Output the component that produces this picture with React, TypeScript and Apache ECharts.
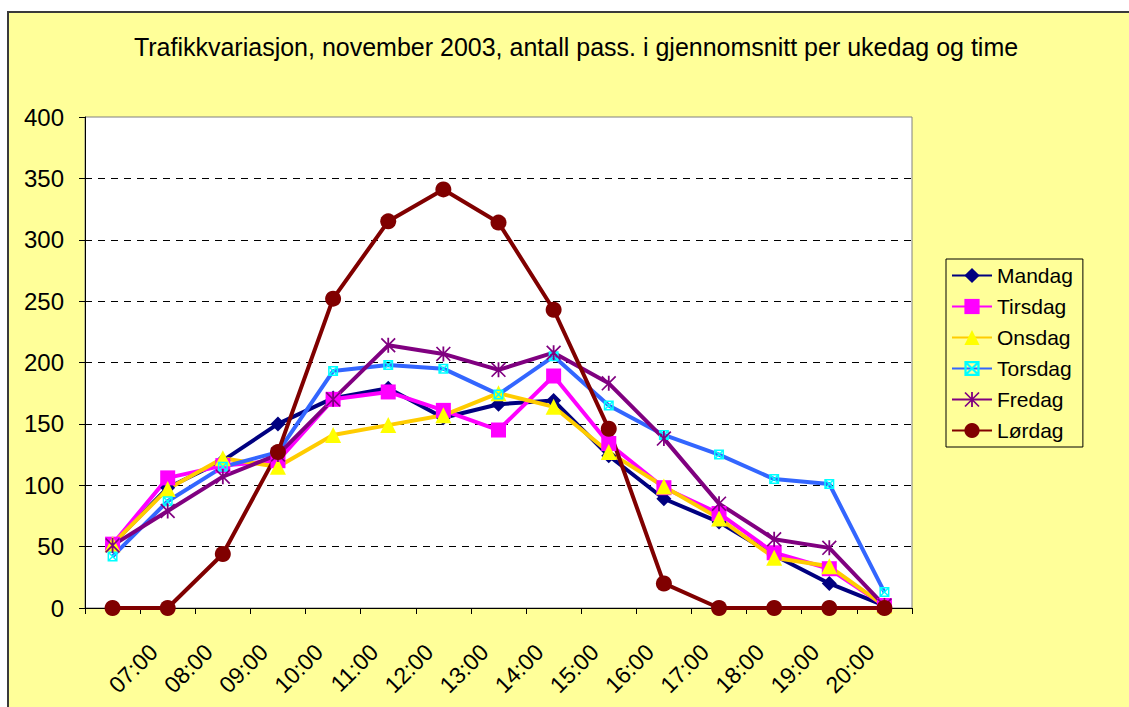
import React, { useEffect, useRef } from 'react';
import * as echarts from 'echarts';

const categories = ['', '07:00', '08:00', '09:00', '10:00', '11:00', '12:00', '13:00', '14:00', '15:00', '16:00', '17:00', '18:00', '19:00', '20:00'];
const seriesNames = ['Mandag', 'Tirsdag', 'Onsdag', 'Torsdag', 'Fredag', 'Lørdag'];
const mandag = [52, 98, 120, 150, 171, 179, 155, 166, 169, 124, 89, 70, 43, 20, 2];
const tirsdag = [52, 106, 116, 120, 170, 176, 161, 145, 189, 134, 98, 77, 45, 32, 2];
const onsdag = [52, 97, 122, 115, 141, 149, 157, 175, 164, 127, 99, 73, 41, 34, 2];
const torsdag = [42, 87, 115, 127, 193, 198, 195, 174, 205, 165, 141, 125, 105, 101, 13];
const fredag = [51, 79, 107, 125, 170, 214, 207, 194, 208, 183, 138, 85, 56, 49, 2];
const lordag = [0, 0, 44, 127, 252, 315, 341, 314, 243, 146, 20, 0, 0, 0, 0];
const yTicks = { min: 0, max: 400, interval: 50 };
const title = 'Trafikkvariasjon, november 2003, antall pass. i gjennomsnitt per ukedag og time';

const FONT = '"Liberation Sans", Arial, sans-serif';

const xBoxSymbol =
  'path://M0,0L10,0L10,10L0,10Z M1.5,1.5L1.5,8.5L8.5,8.5L8.5,1.5Z M0,1L1,0L10,9L9,10Z M9,0L10,1L1,10L0,9Z';
const starSymbol =
  'path://M4.4,0L5.6,0L5.6,10L4.4,10Z M0,0.8L0.8,0L10,9.2L9.2,10Z M9.2,0L10,0.8L0.8,10L0,9.2Z';

export default function App() {
  const ref = useRef<HTMLDivElement>(null);
  useEffect(() => {
    document.body.style.overflow = 'hidden';
    const chart = echarts.init(ref.current!, null, { renderer: 'svg' });
    const datas = [mandag, tirsdag, onsdag, torsdag, fredag, lordag];
    const styles = [
      { line: '#000080', fill: '#000080', symbol: 'diamond', size: 15 },
      { line: '#FF00FF', fill: '#FF00FF', symbol: 'rect', size: 15 },
      { line: '#FFCC00', fill: '#FFFF00', symbol: 'triangle', size: 16 },
      { line: '#3366FF', fill: '#00FFFF', symbol: xBoxSymbol, size: 10 },
      { line: '#800080', fill: '#800080', symbol: starSymbol, size: 15 },
      { line: '#800000', fill: '#800000', symbol: 'circle', size: 16 },
    ];
    chart.setOption({
      animation: false,
      backgroundColor: '#FFFF99',
      textStyle: { fontFamily: FONT },
      title: {
        text: title,
        left: 567,
        top: 21,
        textAlign: 'center',
        padding: 0,
        textStyle: { fontFamily: FONT, fontSize: 25, fontWeight: 'normal', color: '#000' },
      },
      legend: {
        orient: 'vertical',
        left: 937,
        top: 246,
        padding: [6, 10, 6, 5],
        itemGap: 10,
        itemWidth: 40,
        itemHeight: 19,
        borderColor: '#000',
        borderWidth: 1,
        data: seriesNames,
        textStyle: { fontFamily: FONT, fontSize: 21, color: '#000' },
      },
      grid: {
        left: 76,
        top: 104,
        right: 217,
        bottom: 99,
        show: true,
        backgroundColor: '#FFFFFF',
        borderColor: '#808080',
        borderWidth: 1,
      },
      xAxis: {
        type: 'category',
        data: categories,
        boundaryGap: true,
        axisLine: { lineStyle: { color: '#000', width: 1 } },
        axisTick: { show: true, interval: 0, length: 6, lineStyle: { color: '#000' } },
        axisLabel: {
          interval: 0,
          rotate: 45,
          fontSize: 23,
          color: '#000',
          fontFamily: FONT,
          margin: 26,
          padding: [0, 20, 0, 0],
        },
        splitLine: { show: false },
      },
      yAxis: {
        type: 'value',
        min: yTicks.min,
        max: yTicks.max,
        interval: yTicks.interval,
        axisLine: { show: true, lineStyle: { color: '#000', width: 1 } },
        axisTick: { show: true, length: 6, lineStyle: { color: '#000' } },
        axisLabel: { fontSize: 24, color: '#000', fontFamily: FONT, margin: 21 },
        splitLine: {
          show: true,
          showMinLine: false,
          showMaxLine: false,
          lineStyle: { color: '#000', type: [7, 6], width: 1 },
        },
      },
      series: seriesNames.map((name, i) => ({
        name,
        type: 'line',
        data: datas[i],
        symbol: styles[i].symbol,
        symbolSize: styles[i].size,
        showAllSymbol: true,
        lineStyle: { color: styles[i].line, width: 4 },
        itemStyle: { color: styles[i].fill },
        emphasis: { disabled: true },
      })),
    });
    return () => chart.dispose();
  }, []);
  return (
    <div
      style={{
        position: 'absolute',
        left: 7,
        top: 11,
        width: 1122,
        height: 696,
        boxSizing: 'border-box',
        borderLeft: '2px solid #3a3a3a',
        borderTop: '2px solid #3a3a3a',
        background: '#FFFF99',
      }}
    >
      <div ref={ref} style={{ width: 1120, height: 694 }} />
    </div>
  );
}
